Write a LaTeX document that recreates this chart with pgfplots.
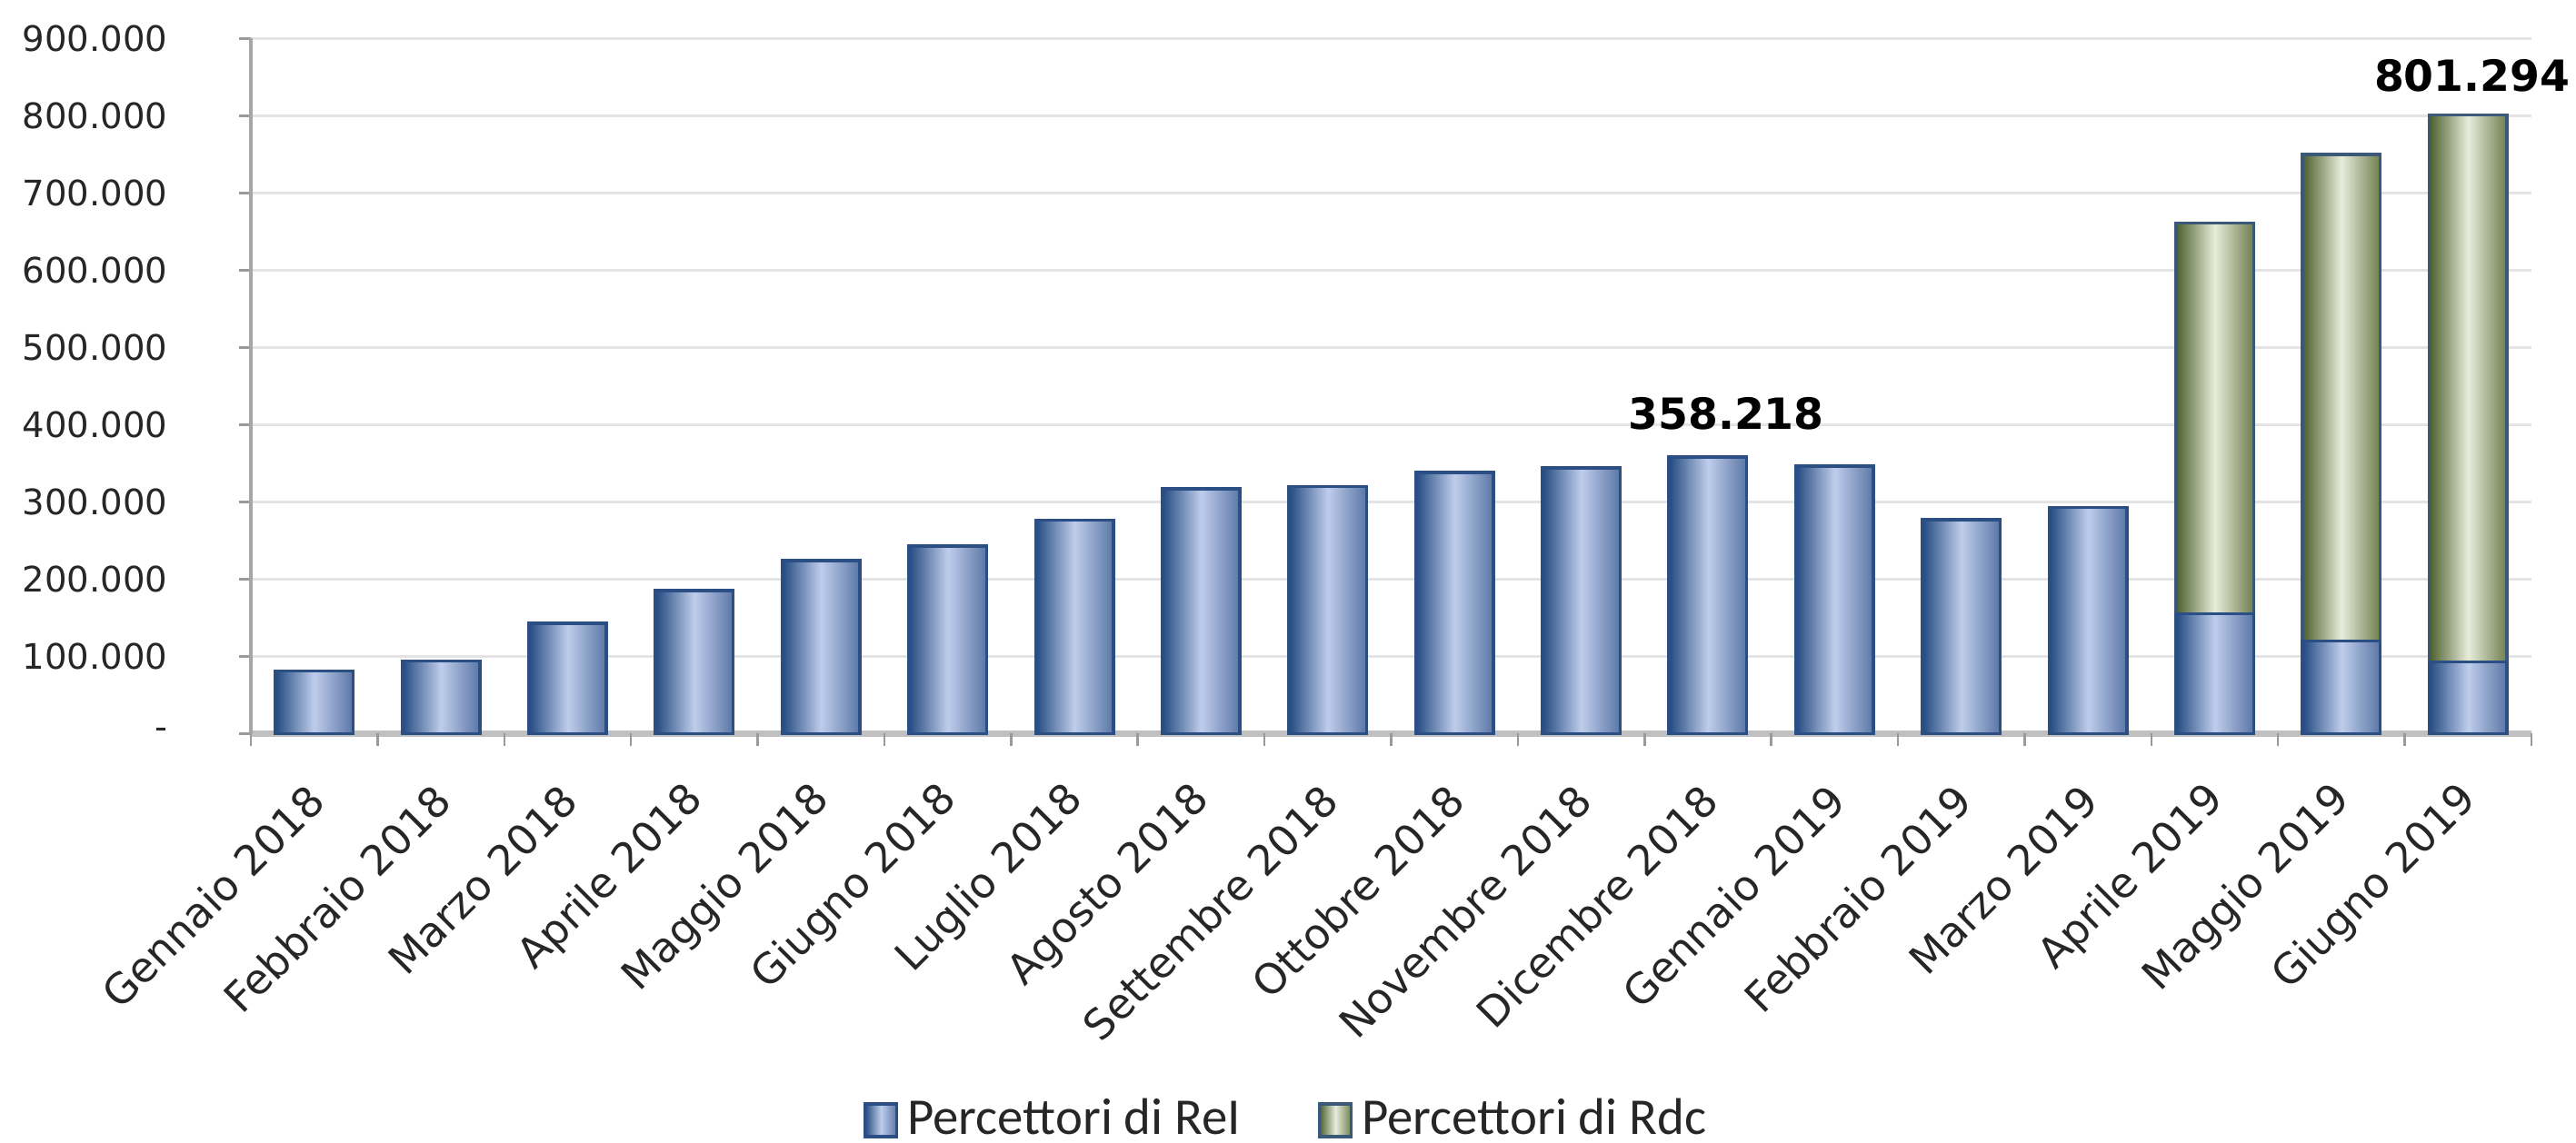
\documentclass[border=0pt]{standalone}
\usepackage{fontspec}
\setmainfont{DejaVu Sans}
\newfontfamily\legfont{Carlito}
\usepackage{pgfplots}
\pgfplotsset{compat=1.18}
\definecolor{bdark}{HTML}{234A80}
\definecolor{blight}{HTML}{BFCDEB}
\definecolor{bmid}{HTML}{5A76A6}
\definecolor{bedge}{HTML}{2B4F84}
\definecolor{gdark}{HTML}{4B5F2C}
\definecolor{glight}{HTML}{E8ECDB}
\definecolor{gmid}{HTML}{6F7E4E}
\definecolor{gedge}{HTML}{3A5878}
\definecolor{gridc}{HTML}{E4E4E4}
\definecolor{axisx}{HTML}{C0C0C0}
\definecolor{axisy}{HTML}{A6A6A6}
\definecolor{tickc}{HTML}{9A9A9A}
\definecolor{labc}{HTML}{262626}
\pgfplotsset{
  mylegend/.style={legend image code/.code={\draw[##1] (0bp,-3.6bp) rectangle (7bp,3.6bp);}},
  reibar/.style={bar shift=0pt, draw=bedge, line width=0.7bp, left color=bdark, right color=bmid, middle color=blight},
  rdcbar/.style={bar shift=0pt, draw=gedge, line width=0.7bp, left color=gdark, right color=gmid, middle color=glight},
}
\begin{document}
\begin{tikzpicture}
\begin{axis}[
  scale only axis, width=501.8bp, height=153bp,
  xmin=-0.5, xmax=17.5, ymin=0, ymax=900000,
  ybar, bar width=17.1bp,
  axis lines*=left,
  x axis line style={draw=axisx, line width=1.3bp},
  y axis line style={draw=axisy, line width=0.9bp},
  tick align=outside,
  major tick length=2.5bp,
  scaled y ticks=false,
  ytick={0,100000,200000,300000,400000,500000,600000,700000,800000,900000},
  yticklabels={-,100.000,200.000,300.000,400.000,500.000,600.000,700.000,800.000,900.000},
  yticklabel style={font=\fontsize{7.75}{9}\selectfont, text=labc, inner sep=0pt, xshift=-15.6bp},
  ytick style={draw=tickc, line width=0.6bp},
  ymajorgrids, grid style={draw=gridc, line width=0.7bp},
  xtick={0,1,2,3,4,5,6,7,8,9,10,11,12,13,14,15,16,17},
  xticklabels={Gennaio 2018,Febbraio 2018,Marzo 2018,Aprile 2018,Maggio 2018,Giugno 2018,Luglio 2018,Agosto 2018,Settembre 2018,Ottobre 2018,Novembre 2018,Dicembre 2018,Gennaio 2019,Febbraio 2019,Marzo 2019,Aprile 2019,Maggio 2019,Giugno 2019},
  xtick style={draw=none},
  xticklabel style={xshift=0.6bp, yshift=-10.5bp, anchor=east, rotate=45, inner sep=0pt, font=\fontsize{9.2}{11}\selectfont, text=labc},
  extra x ticks={-0.5,0.5,1.5,2.5,3.5,4.5,5.5,6.5,7.5,8.5,9.5,10.5,11.5,12.5,13.5,14.5,15.5,16.5,17.5},
  extra x tick labels={},
  extra x tick style={xtick style={draw=tickc, line width=0.5bp}, major tick length=2.8bp, grid=none},
  clip=false,
  legend columns=2,
  legend style={draw=none, fill=none, at={(0.4554,-0.5565)}, anchor=center, inner sep=0pt,
    font=\legfont\fontsize{11.4}{13}\selectfont, text=labc,
    /tikz/every even column/.append style={column sep=15bp}},
  legend cell align=left,
]
% Percettori di Rdc (drawn as totals ReI + Rdc, overlaid by ReI)
\addplot[rdcbar, forget plot] coordinates {(15,661000)};
\addplot[rdcbar, forget plot] coordinates {(16,750000)};
\addplot[rdcbar, forget plot] coordinates {(17,801294)};
% Percettori di ReI
\addplot[reibar, forget plot] coordinates {(0,81000)};
\addplot[reibar, forget plot] coordinates {(1,94000)};
\addplot[reibar, forget plot] coordinates {(2,143000)};
\addplot[reibar, forget plot] coordinates {(3,185000)};
\addplot[reibar, forget plot] coordinates {(4,224000)};
\addplot[reibar, forget plot] coordinates {(5,243000)};
\addplot[reibar, forget plot] coordinates {(6,276000)};
\addplot[reibar, forget plot] coordinates {(7,317000)};
\addplot[reibar, forget plot] coordinates {(8,320000)};
\addplot[reibar, forget plot] coordinates {(9,338000)};
\addplot[reibar, forget plot] coordinates {(10,344000)};
\addplot[reibar, forget plot] coordinates {(11,358218)};
\addplot[reibar, forget plot] coordinates {(12,346000)};
\addplot[reibar, forget plot] coordinates {(13,277000)};
\addplot[reibar, forget plot] coordinates {(14,293000)};
\addplot[reibar, forget plot] coordinates {(15,155000)};
\addplot[reibar, forget plot] coordinates {(16,120000)};
\addplot[reibar, forget plot] coordinates {(17,93000)};
\addlegendimage{reibar, mylegend}
\addlegendentry{Percettori di ReI}
\addlegendimage{rdcbar, mylegend}
\addlegendentry{Percettori di Rdc}
\node[anchor=base, xshift=4bp, yshift=6bp, font=\bfseries\fontsize{9.5}{11}\selectfont, text=black] at (axis cs:11,358218) {358.218};
\node[anchor=base, xshift=0.9bp, yshift=5.2bp, font=\bfseries\fontsize{9.5}{11}\selectfont, text=black] at (axis cs:17,801294) {801.294};
\end{axis}
\pgfresetboundingbox
\path (current axis.south west) ++(-55.2bp,-89.94bp) rectangle ++(566.8bp,251.4bp);
\end{tikzpicture}
\end{document}
